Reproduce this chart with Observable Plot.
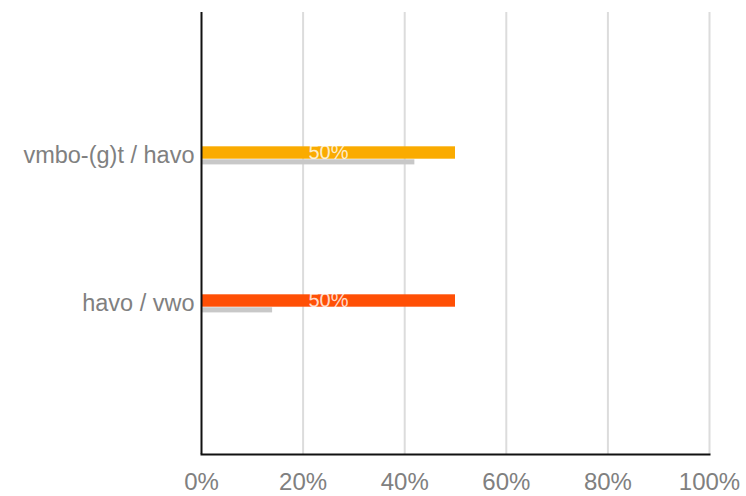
<!DOCTYPE html>
<html>
<head>
<meta charset="utf-8">
<script src="https://cdn.jsdelivr.net/npm/d3@7"></script>
<script src="https://cdn.jsdelivr.net/npm/@observablehq/plot@0.6"></script>
<style>
  html, body { margin: 0; padding: 0; background: #fff; }
  #chart svg { display: block; }
</style>
</head>
<body>
<div id="chart"></div>
<script>
const categories = ["vmbo-(g)t / havo", "havo / vwo"];
const mainValues = [0.50, 0.50];
const compareValues = [0.42, 0.14];
const barLabels = ["50%", "50%"];
const barColors = ["#FAAB00", "#FF4F05"];
const xTicks = [0, 0.2, 0.4, 0.6, 0.8, 1.0];

const main = categories.map((c, i) => ({cat: c, value: mainValues[i], label: barLabels[i], color: barColors[i]}));
const compare = categories.map((c, i) => ({cat: c, value: compareValues[i]}));

const chart = Plot.plot({
  width: 746,
  height: 496,
  marginLeft: 201,
  marginRight: 37,
  marginTop: 12,
  marginBottom: 42,
  style: {fontFamily: "'Liberation Sans', Arial, sans-serif", background: "#fff"},
  x: {domain: [0, 1]},
  y: {domain: categories, range: [80.4, 377.6], padding: 0},
  marks: [
    Plot.ruleX(xTicks.slice(1), {stroke: "#dcdcdc", strokeWidth: 2}),
    Plot.barX(compare, {x: "value", y: "cat", fill: "#c8c8c8", insetTop: 78.3, insetBottom: 148.6 - 84}),
    Plot.barX(main, {x: "value", y: "cat", fill: "color", insetTop: 65.3, insetBottom: 148.6 - 78.3}),
    Plot.text(main, {x: d => d.value / 2, y: "cat", text: "label", fill: "#ffffff", fillOpacity: 0.8, fontSize: 20, dy: -2.5}),
    Plot.axisX({ticks: xTicks, tickFormat: d3.format(".0%"), tickSize: 0, tickPadding: 18, fontSize: 24, color: "#808080", label: null}),
    Plot.axisY({tickSize: 0, tickPadding: 7, fontSize: 23.5, color: "#808080", label: null}),
    Plot.ruleX([0], {stroke: "#111", strokeWidth: 2}),
    Plot.frame({anchor: "bottom", stroke: "#111", strokeWidth: 2})
  ]
});
document.getElementById("chart").appendChild(chart);
</script>
</body>
</html>
